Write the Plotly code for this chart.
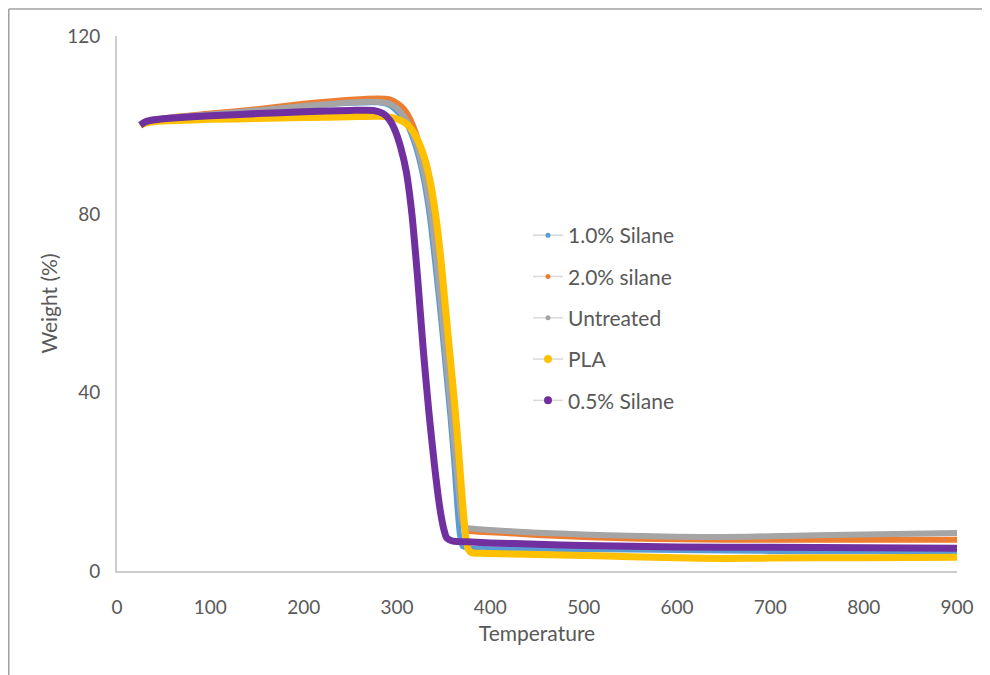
import plotly.graph_objects as go

# ---------------- data ----------------
series_names = ["1.0% Silane", "2.0% silane", "Untreated", "PLA", "0.5% Silane"]
series_colors = ["#5B9BD5", "#ED7D31", "#A5A5A5", "#FFC000", "#7030A0"]
line_widths = [5, 6, 6, 7, 7]
legend_marker_sizes = [5, 5, 5, 8, 8]

temp_silane10 = [25, 30, 40, 60, 100, 150, 200, 250, 280, 292, 300, 308, 315, 322, 329, 335, 341, 347, 352, 357,
                 361, 364, 367, 370, 375, 400, 450, 500, 600, 700, 800, 900]
wt_silane10 = [100, 100.6, 101.1, 101.6, 102.3, 103.2, 104.2, 104.9, 105.0, 104.4, 103.0, 101.0, 98, 93.5, 87, 79,
               68, 56, 45, 34, 24, 15, 8, 5.5, 5.2, 5.0, 4.9, 4.8, 4.6, 4.4, 4.35, 4.3]

temp_silane20 = [25, 30, 40, 60, 100, 150, 200, 250, 280, 292, 300, 308, 315, 322, 329, 335, 341, 347, 352, 357,
                 362, 366, 370, 373, 377, 400, 450, 500, 550, 600, 700, 800, 900]
wt_silane20 = [100, 100.7, 101.2, 101.8, 102.6, 103.6, 104.8, 105.7, 106.0, 105.8, 105.0, 103.5, 101, 97, 91, 84,
               74, 62, 51, 40, 29, 20, 13, 9.5, 9.0, 8.7, 8.1, 7.6, 7.3, 7.1, 7.0, 7.0, 7.0]

temp_untreated = [25, 30, 40, 60, 100, 150, 200, 250, 280, 292, 300, 308, 315, 322, 329, 335, 341, 347, 352, 357,
                  362, 366, 369, 372, 376, 400, 450, 500, 550, 600, 650, 700, 800, 900]
wt_untreated = [100, 100.6, 101.1, 101.7, 102.4, 103.3, 104.3, 105.1, 105.2, 104.8, 103.8, 101.8, 99, 95, 89, 82,
                72, 60, 49, 38, 27, 18, 12, 10, 9.6, 9.2, 8.6, 8.2, 7.9, 7.7, 7.6, 7.8, 8.2, 8.5]

temp_pla = [25, 30, 40, 60, 100, 150, 200, 250, 280, 292, 300, 308, 315, 322, 329, 335, 341, 347, 352, 357, 362,
            366, 370, 373, 376, 380, 390, 400, 450, 500, 550, 600, 650, 700, 800, 900]
wt_pla = [100, 100.4, 100.8, 101.0, 101.3, 101.5, 101.7, 101.9, 102.0, 101.8, 101.4, 100.6, 99.2, 96.8, 93, 88,
          80.5, 70, 59, 48, 37, 27, 16, 9, 5, 4.1, 4.0, 3.9, 3.7, 3.5, 3.2, 3.0, 2.8, 2.9, 3.0, 3.1]

temp_silane05 = [25, 30, 40, 60, 100, 150, 200, 250, 275, 285, 292, 298, 304, 310, 316, 322, 328, 334, 340, 346,
                 350, 353, 356, 360, 380, 400, 450, 500, 600, 700, 800, 900]
wt_silane05 = [100, 100.7, 101.2, 101.6, 102.1, 102.6, 103.0, 103.3, 103.3, 102.6, 101.2, 98.8, 95, 89.5, 80, 66,
               50, 36, 24, 14, 9.5, 7.5, 7.0, 6.7, 6.5, 6.3, 6.0, 5.7, 5.4, 5.3, 5.2, 5.1]

temps = [temp_silane10, temp_silane20, temp_untreated, temp_pla, temp_silane05]
weights = [wt_silane10, wt_silane20, wt_untreated, wt_pla, wt_silane05]

x_ticks = [0, 100, 200, 300, 400, 500, 600, 700, 800, 900]
y_ticks = [0, 40, 80, 120]

# ---------------- figure ----------------
FONT = "Lato, 'Open Sans', sans-serif"
TXT = "#595959"

fig = go.Figure()

for name, color, lw, t, w in zip(series_names, series_colors, line_widths, temps, weights):
    fig.add_trace(go.Scatter(
        x=t, y=w, mode="lines", name=name, legendgroup=name, showlegend=False,
        line=dict(color=color, width=lw, shape="spline", smoothing=0.6),
    ))

# legend entries (light line with coloured dot, as in the reference)
for name, color, ms in zip(series_names, series_colors, legend_marker_sizes):
    fig.add_trace(go.Scatter(
        x=[None], y=[None], mode="lines+markers", name=name, legendgroup=name,
        line=dict(color="#d9d9d9", width=1.5),
        marker=dict(color=color, size=ms),
    ))

# page body has an 8px margin, so the figure is laid out 8px smaller
W, H = 982, 667
ml, mr, mt, mb = 109, 33, 28, 104
pw, ph = W - ml - mr, H - mt - mb

fig.update_layout(
    width=W, height=H,
    margin=dict(l=ml, r=mr, t=mt, b=mb),
    paper_bgcolor="white", plot_bgcolor="white",
    font=dict(family=FONT, color=TXT, size=19),
    xaxis=dict(
        range=[0, 900], tickvals=x_ticks, showgrid=False, zeroline=False,
        showline=True, linecolor="#cccccc", linewidth=2, ticks="",
        ticklabelstandoff=18, tickfont=dict(size=19, color=TXT),
        title=dict(text="Temperature", font=dict(size=21, color=TXT), standoff=10),
    ),
    yaxis=dict(
        range=[0, 120], tickvals=y_ticks, showgrid=False, zeroline=False,
        showline=True, linecolor="#cccccc", linewidth=2, ticks="",
        ticklabelstandoff=11, tickfont=dict(size=19, color=TXT),
        title=dict(text="Weight (%)", font=dict(size=21, color=TXT), standoff=4),
    ),
    legend=dict(
        x=(520 - ml) / pw, y=(563 - 207) / ph, xanchor="left", yanchor="top",
        bgcolor="rgba(0,0,0,0)", font=dict(size=21, color=TXT),
        traceorder="grouped", tracegroupgap=11, itemwidth=30,
    ),
    shapes=[
        dict(type="line", xref="paper", yref="paper",
             x0=(0.75 - ml) / pw, x1=(0.75 - ml) / pw, y0=(563 - 1) / ph, y1=-0.3,
             line=dict(color="#a0a0a0", width=1.5)),
        dict(type="line", xref="paper", yref="paper",
             x0=(0.75 - ml) / pw, x1=1.2, y0=(563 - 1) / ph, y1=(563 - 1) / ph,
             line=dict(color="#a0a0a0", width=1.5)),
    ],
)

fig.write_html("out.html")
